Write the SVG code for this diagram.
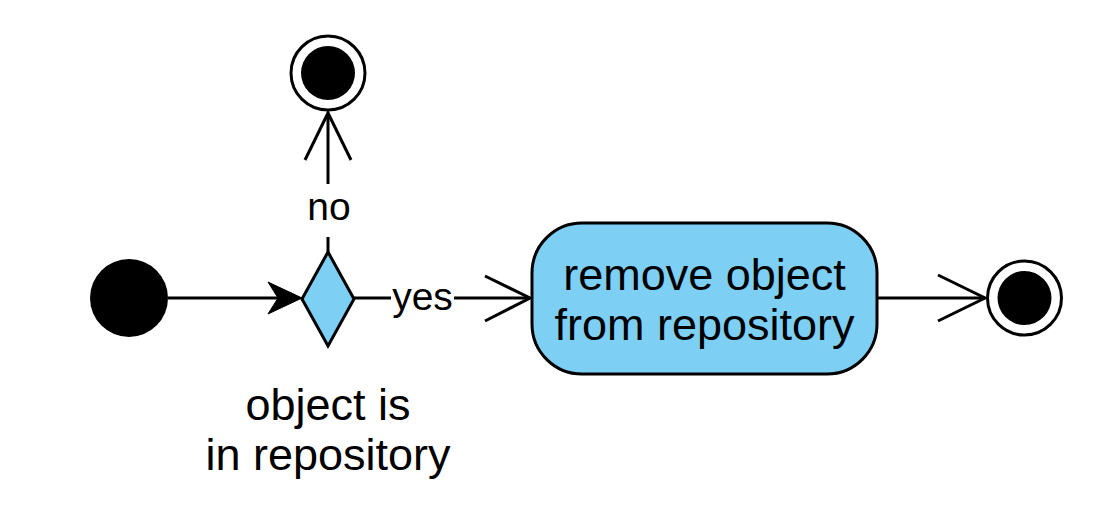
<svg xmlns="http://www.w3.org/2000/svg" width="1096" height="527" viewBox="0 0 1096 527">
<style>
  .ln { stroke:#000; stroke-width:3; fill:none; }
  .open { stroke:#000; stroke-width:3; fill:none; }
  .node { stroke:#000; stroke-width:3; fill:#7dcff4; }
  .txt { font-family:"Liberation Sans", Arial, sans-serif; fill:#000; text-anchor:middle; }
  .big { font-size:45px; }
  .lbl { font-size:39px; }
</style>
<rect width="1096" height="527" fill="#fff"/>
<g id="start">
  <circle cx="129" cy="298" r="39" fill="#000"/>
</g>
<g id="decision">
  <polygon class="node" points="328,252 354,299 328,346 302,299"/>
  <text class="txt big" x="328" y="420">object is</text>
  <text class="txt big" x="328" y="470">in repository</text>
</g>
<g id="final-top">
  <circle cx="328" cy="73" r="37" fill="#fff" stroke="#000" stroke-width="3"/>
  <circle cx="328" cy="73" r="27" fill="#000"/>
</g>
<g id="remove">
  <rect class="node" x="532" y="223" width="345" height="151" rx="50" ry="50"/>
  <text class="txt big" x="704.5" y="290">remove object</text>
  <text class="txt big" x="704.5" y="340">from repository</text>
</g>
<g id="final-right">
  <circle cx="1024.5" cy="298" r="37" fill="#fff" stroke="#000" stroke-width="3"/>
  <circle cx="1024.5" cy="298" r="27" fill="#000"/>
</g>
<g id="connectors">
  <line class="ln" x1="168" y1="298" x2="290" y2="298"/>
  <polygon points="302,298 268,282 278,298 268,314" fill="#000" stroke="#000" stroke-width="1"/>
  <line class="ln" x1="328" y1="252" x2="328" y2="237"/>
  <line class="ln" x1="328" y1="184" x2="328" y2="113"/>
  <polyline class="open" points="305,160 328,113 351,160"/>
  <text class="txt lbl" x="329" y="220">no</text>
  <line class="ln" x1="354" y1="298" x2="391" y2="298"/>
  <line class="ln" x1="454" y1="298" x2="530" y2="298"/>
  <polyline class="open" points="485,276 530,298 485,321"/>
  <text class="txt lbl" x="422.5" y="310">yes</text>
  <line class="ln" x1="877" y1="298" x2="985" y2="298"/>
  <polyline class="open" points="938,275 985,298 938,321"/>
</g>
</svg>
